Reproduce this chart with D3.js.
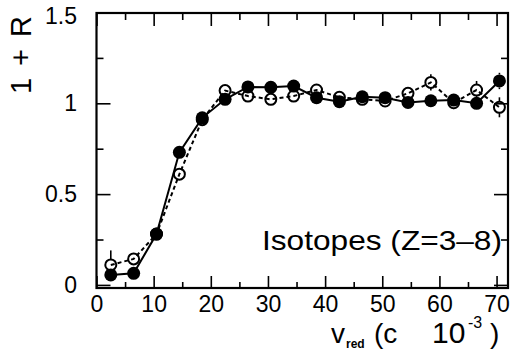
<!DOCTYPE html>
<html>
<head>
<meta charset="utf-8">
<script src="https://cdn.jsdelivr.net/npm/d3@7"></script>
<style>
  html, body { margin: 0; padding: 0; background: #fff; }
  svg { display: block; }
  text { font-family: "Liberation Sans", Arial, Helvetica, sans-serif; fill: #000; }
</style>
</head>
<body>
<svg id="chart" width="510" height="357"></svg>
<script>
// ---- data ----
const vRed = [2.5, 6.5, 10.5, 14.5, 18.5, 22.5, 26.5, 30.5, 34.5, 38.5, 42.5, 46.5, 50.5, 54.5, 58.5, 62.5, 66.5, 70.5];
const filledValues = [0.055, 0.064, 0.28, 0.73, 0.92, 1.022, 1.09, 1.088, 1.095, 1.031, 1.009, 1.036, 1.031, 1.005, 1.014, 1.018, 1.0, 1.123];
const filledErrors = [0.02, 0.02, 0.02, 0.02, 0.02, 0.02, 0.02, 0.02, 0.02, 0.02, 0.02, 0.02, 0.02, 0.02, 0.02, 0.02, 0.025, 0.045];
const openValues = [0.11, 0.143, 0.28, 0.61, 0.91, 1.07, 1.04, 1.022, 1.04, 1.073, 1.033, 1.022, 1.013, 1.055, 1.115, 1.003, 1.073, 0.978];
const openErrors = [0.08, 0.03, 0.03, 0.03, 0.03, 0.03, 0.03, 0.03, 0.03, 0.03, 0.03, 0.03, 0.03, 0.035, 0.045, 0.035, 0.05, 0.055];
const xMajorTicks = [0, 10, 20, 30, 40, 50, 60, 70];
const xMinorTicks = [5, 15, 25, 35, 45, 55, 65];
const yMajorTicks = [0, 0.5, 1, 1.5];
const yMinorTicks = [0.25, 0.75, 1.25];
const yTickLabels = ["0", "0.5", "1", "1.5"];
const legendText = "Isotopes (Z=3–8)";

// ---- layout ----
const L = 96.5, R = 508, T = 13, B = 288;
const svg = d3.select("#chart");
const x = d3.scaleLinear().domain([0, 72]).range([L, R]);
const y = d3.scaleLinear().domain([-0.017, 1.5]).range([B, 12.5]);

const fontFam = '"Liberation Sans", Arial, Helvetica, sans-serif';

// bottom axis (ticks pointing up inside)
const gB = svg.append("g").attr("transform", `translate(0,${B})`)
  .call(d3.axisBottom(x).tickValues(xMajorTicks).tickSize(-12).tickPadding(8).tickFormat(d3.format("d")));
svg.append("g").attr("transform", `translate(0,${B})`)
  .call(d3.axisBottom(x).tickValues(xMinorTicks).tickSize(-6).tickFormat(""));
// top axis
svg.append("g").attr("transform", `translate(0,${T})`)
  .call(d3.axisTop(x).tickValues(xMajorTicks).tickSize(-13).tickFormat(""));
svg.append("g").attr("transform", `translate(0,${T})`)
  .call(d3.axisTop(x).tickValues(xMinorTicks).tickSize(-7).tickFormat(""));
// left axis
const gL = svg.append("g").attr("transform", `translate(${L},0)`)
  .call(d3.axisLeft(y).tickValues(yMajorTicks).tickSize(-14).tickPadding(19.5)
    .tickFormat((d, i) => yTickLabels[i]));
svg.append("g").attr("transform", `translate(${L},0)`)
  .call(d3.axisLeft(y).tickValues(yMinorTicks).tickSize(-7).tickFormat(""));
// right axis
svg.append("g").attr("transform", `translate(${R},0)`)
  .call(d3.axisRight(y).tickValues(yMajorTicks).tickSize(-14).tickFormat(""));
svg.append("g").attr("transform", `translate(${R},0)`)
  .call(d3.axisRight(y).tickValues(yMinorTicks).tickSize(-7).tickFormat(""));

svg.selectAll(".domain").remove();
svg.selectAll(".tick line").attr("stroke", "#000").attr("stroke-width", 1.6);
svg.selectAll(".tick text").attr("font-family", fontFam).attr("fill", "#000");
gB.selectAll(".tick text").attr("font-size", 23);
gL.selectAll(".tick text").attr("font-size", 23);
// the 1.5 label sits slightly below its tick at the top edge
gL.selectAll(".tick").filter(d => d === 1.5).select("text")
  .attr("transform", "translate(0,3.5)");

// frame
svg.append("rect").attr("x", L).attr("y", T).attr("width", R - L).attr("height", B - T)
  .attr("fill", "none").attr("stroke", "#000").attr("stroke-width", 2.2);

// plot area
const plot = svg.append("g");
const openData = vRed.map((v, i) => ({ x: v, y: openValues[i], e: openErrors[i] }));
const filledData = vRed.map((v, i) => ({ x: v, y: filledValues[i], e: filledErrors[i] }));
const line = d3.line().x(d => x(d.x)).y(d => y(d.y));

// error bar segments outside the marker only
function errSegs(data, r) {
  const segs = [];
  data.forEach(d => {
    const cy = y(d.y), top = y(d.y + d.e), bot = y(d.y - d.e);
    if (cy - top > r) segs.push({ x: x(d.x), y1: top, y2: cy - r });
    if (bot - cy > r) segs.push({ x: x(d.x), y1: cy + r, y2: bot });
  });
  return segs;
}

const rOpen = 5.5, rFilled = 6.5;

// open series (dashed)
plot.append("path").datum(openData).attr("d", line)
  .attr("fill", "none").attr("stroke", "#000").attr("stroke-width", 2).attr("stroke-dasharray", "4,3");
plot.selectAll(".eo").data(errSegs(openData, rOpen)).join("line")
  .attr("x1", d => d.x).attr("x2", d => d.x).attr("y1", d => d.y1).attr("y2", d => d.y2)
  .attr("stroke", "#000").attr("stroke-width", 1.6);
plot.selectAll(".po").data(openData).join("circle")
  .attr("cx", d => x(d.x)).attr("cy", d => y(d.y)).attr("r", rOpen)
  .attr("fill", "none").attr("stroke", "#000").attr("stroke-width", 2);

// filled series (solid)
plot.append("path").datum(filledData).attr("d", line)
  .attr("fill", "none").attr("stroke", "#000").attr("stroke-width", 2);
plot.selectAll(".ef").data(errSegs(filledData, rFilled)).join("line")
  .attr("x1", d => d.x).attr("x2", d => d.x).attr("y1", d => d.y1).attr("y2", d => d.y2)
  .attr("stroke", "#000").attr("stroke-width", 1.6);
plot.selectAll(".pf").data(filledData).join("circle")
  .attr("cx", d => x(d.x)).attr("cy", d => y(d.y)).attr("r", rFilled)
  .attr("fill", "#000");

// legend text
svg.append("text").attr("x", 262).attr("y", 250)
  .attr("font-size", 28).attr("textLength", 240).attr("lengthAdjust", "spacingAndGlyphs")
  .text(legendText);

// y axis title
svg.append("text").attr("transform", "translate(31,94) rotate(-90)")
  .attr("font-size", 29).attr("textLength", 78).attr("lengthAdjust", "spacing")
  .text("1 + R");

// x axis title
const xt = svg.append("text").attr("y", 343).attr("font-size", 28);
xt.append("tspan").attr("x", 331).text("v");
xt.append("tspan").attr("x", 346).attr("dy", 5).attr("font-size", 12).attr("font-weight", "bold").text("red");
xt.append("tspan").attr("x", 374).attr("dy", -5).text("(c");
xt.append("tspan").attr("x", 432).attr("font-size", 30).text("10");
xt.append("tspan").attr("x", 468).attr("dy", -15).attr("font-size", 16).text("-3");
xt.append("tspan").attr("x", 490).attr("dy", 15).text(")");
</script>
</body>
</html>
